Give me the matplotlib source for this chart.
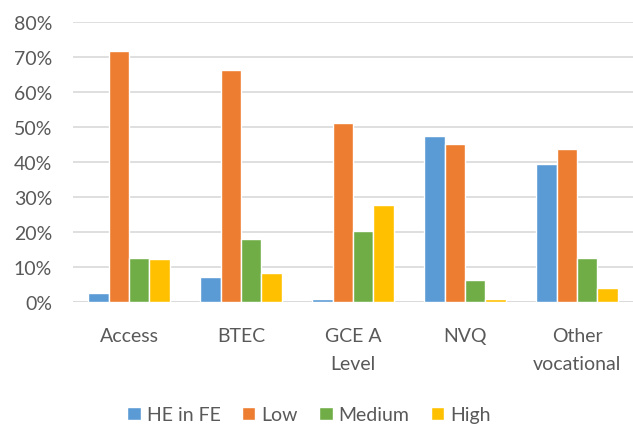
import numpy as np
import matplotlib.pyplot as plt
from matplotlib.ticker import PercentFormatter

categories = ["Access", "BTEC", "GCE A\nLevel", "NVQ", "Other\nvocational"]
series_names = ["HE in FE", "Low", "Medium", "High"]
he_in_fe = [2.7, 7.2, 0.9, 47.5, 39.4]
low = [71.9, 66.3, 51.1, 45.1, 43.8]
medium = [12.7, 18.1, 20.3, 6.3, 12.7]
high = [12.4, 8.4, 27.7, 1.0, 4.0]
colors = ["#5B9BD5", "#ED7D31", "#70AD47", "#FFC000"]

plt.rcParams["font.family"] = ["Lato", "DejaVu Sans"]
text_color = "#595959"

fig = plt.figure(figsize=(6.33, 4.27), dpi=100)
ax = fig.add_axes([73 / 633, 1 - 303.3 / 427, 560 / 633, 280 / 427])

x = np.arange(len(categories))
pitch = 0.181
for i, (name, vals) in enumerate(zip(series_names, [he_in_fe, low, medium, high])):
    ax.bar(
        x + (i - 1.5) * pitch,
        np.array(vals) / 100,
        width=pitch,
        color=colors[i],
        edgecolor="white",
        linewidth=1.0,
        label=name,
        zorder=3,
    )

ax.set_xlim(-0.5, len(categories) - 0.5)
ax.set_ylim(0, 0.8)
ax.set_yticks(np.arange(0, 0.81, 0.1))
ax.yaxis.set_major_formatter(PercentFormatter(1.0, decimals=0))
ax.grid(axis="y", color="#D9D9D9", linewidth=1.2, zorder=0)
for s in ax.spines.values():
    s.set_visible(False)
ax.axhline(0, color="#D9D9D9", linewidth=1.2, zorder=2)
ax.set_xticks(x, labels=categories)
ax.tick_params(axis="both", length=0, labelsize=14, colors=text_color)
ax.tick_params(axis="y", pad=15)
ax.tick_params(axis="x", pad=18)
for lbl in ax.get_xticklabels():
    lbl.set_linespacing(1.75)

fig.legend(
    loc="lower center",
    bbox_to_anchor=(0.488, -0.035),
    ncol=4,
    frameon=False,
    fontsize=14,
    labelcolor=text_color,
    handlelength=0.7,
    handleheight=0.7,
    handletextpad=0.3,
    columnspacing=1.1,
)

fig.savefig("out.png", dpi=100)
